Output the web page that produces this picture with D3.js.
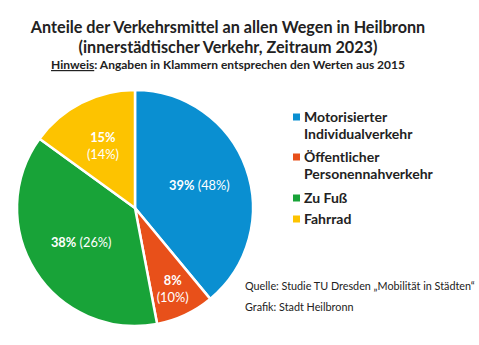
<!DOCTYPE html>
<html>
<head>
<meta charset="utf-8">
<script src="https://cdn.jsdelivr.net/npm/d3@7"></script>
<style>
  body { margin: 0; background: #fff; }
  svg { display: block; font-family: Lato, "Open Sans", sans-serif; }
</style>
</head>
<body>
<svg id="chart" width="479" height="345"></svg>
<script>
// Daten (2023, in Klammern 2015)
const categories = ["Motorisierter Individualverkehr", "Öffentlicher Personennahverkehr", "Zu Fuß", "Fahrrad"];
const values2023 = [39, 8, 38, 15];
const values2015 = [48, 10, 26, 14];
const legendLines = [["Motorisierter", "Individualverkehr"], ["Öffentlicher", "Personennahverkehr"], ["Zu Fuß"], ["Fahrrad"]];
const colors = ["#0a8fd1", "#e8501a", "#18a338", "#fdc300"];

const svg = d3.select("#chart");

// Titel
const title = svg.append("g").attr("text-anchor", "middle").attr("fill", "#222");
title.append("text").attr("x", 228).attr("y", 33)
    .attr("font-size", 16.2).attr("font-weight", "bold")
    .text("Anteile der Verkehrsmittel an allen Wegen in Heilbronn");
title.append("text").attr("x", 228).attr("y", 53)
    .attr("font-size", 16.2).attr("font-weight", "bold")
    .text("(innerstädtischer Verkehr, Zeitraum 2023)");
const hint = title.append("text").attr("x", 228).attr("y", 69)
    .attr("font-size", 12).attr("font-weight", "bold");
hint.append("tspan").attr("text-decoration", "underline").text("Hinweis");
hint.append("tspan").text(": Angaben in Klammern entsprechen den Werten aus 2015");

// Kreisdiagramm
const cx = 135, cy = 208, r = 118;
const pie = d3.pie().sort(null).value(d => d.v);
const data = values2023.map((v, i) => ({v, old: values2015[i], i}));
const arcs = pie(data);
const arc = d3.arc().innerRadius(0).outerRadius(r);

const g = svg.append("g").attr("transform", `translate(${cx},${cy})`);
g.selectAll("path")
    .data(arcs)
    .join("path")
    .attr("d", arc)
    .attr("fill", d => colors[d.data.i])
    .attr("stroke", "#fff")
    .attr("stroke-width", 2.5)
    .attr("stroke-linejoin", "round");

// Beschriftungen: einzeilig oder zweizeilig
const twoLine = [false, true, false, true];
const labelRadius = [0.58, 0.75, 0.54, 0.6];
arcs.forEach(a => {
    const i = a.data.i;
    const la = d3.arc().innerRadius(r * labelRadius[i]).outerRadius(r * labelRadius[i]);
    const [x, y] = la.centroid(a);
    const t = g.append("text").attr("text-anchor", "middle").attr("fill", "#fff").attr("font-size", 12.8);
    if (twoLine[i]) {
        t.append("tspan").attr("x", x).attr("y", y - 3).attr("font-weight", "bold").text(a.data.v + "%");
        t.append("tspan").attr("x", x).attr("y", y + 14).text("(" + a.data.old + "%)");
    } else {
        t.attr("x", x).attr("y", y + 5);
        t.append("tspan").attr("font-weight", "bold").text(a.data.v + "%");
        t.append("tspan").text(" (" + a.data.old + "%)");
    }
});

// Legende
const legendY = [117, 157, 198, 219];
const legend = svg.append("g").attr("fill", "#222").attr("font-size", 14).attr("font-weight", "bold");
categories.forEach((c, i) => {
    legend.append("rect")
        .attr("x", 293).attr("y", legendY[i] - 3.5)
        .attr("width", 7).attr("height", 7)
        .attr("fill", colors[i]);
    legendLines[i].forEach((line, j) => {
        legend.append("text")
            .attr("x", 304).attr("y", legendY[i] + 5 + j * 17)
            .text(line);
    });
});

// Quelle
const src = svg.append("g").attr("fill", "#222").attr("font-size", 10.8);
src.append("text").attr("x", 245).attr("y", 290).text("Quelle: Studie TU Dresden „Mobilität in Städten“");
src.append("text").attr("x", 245).attr("y", 311).text("Grafik: Stadt Heilbronn");
</script>
</body>
</html>
